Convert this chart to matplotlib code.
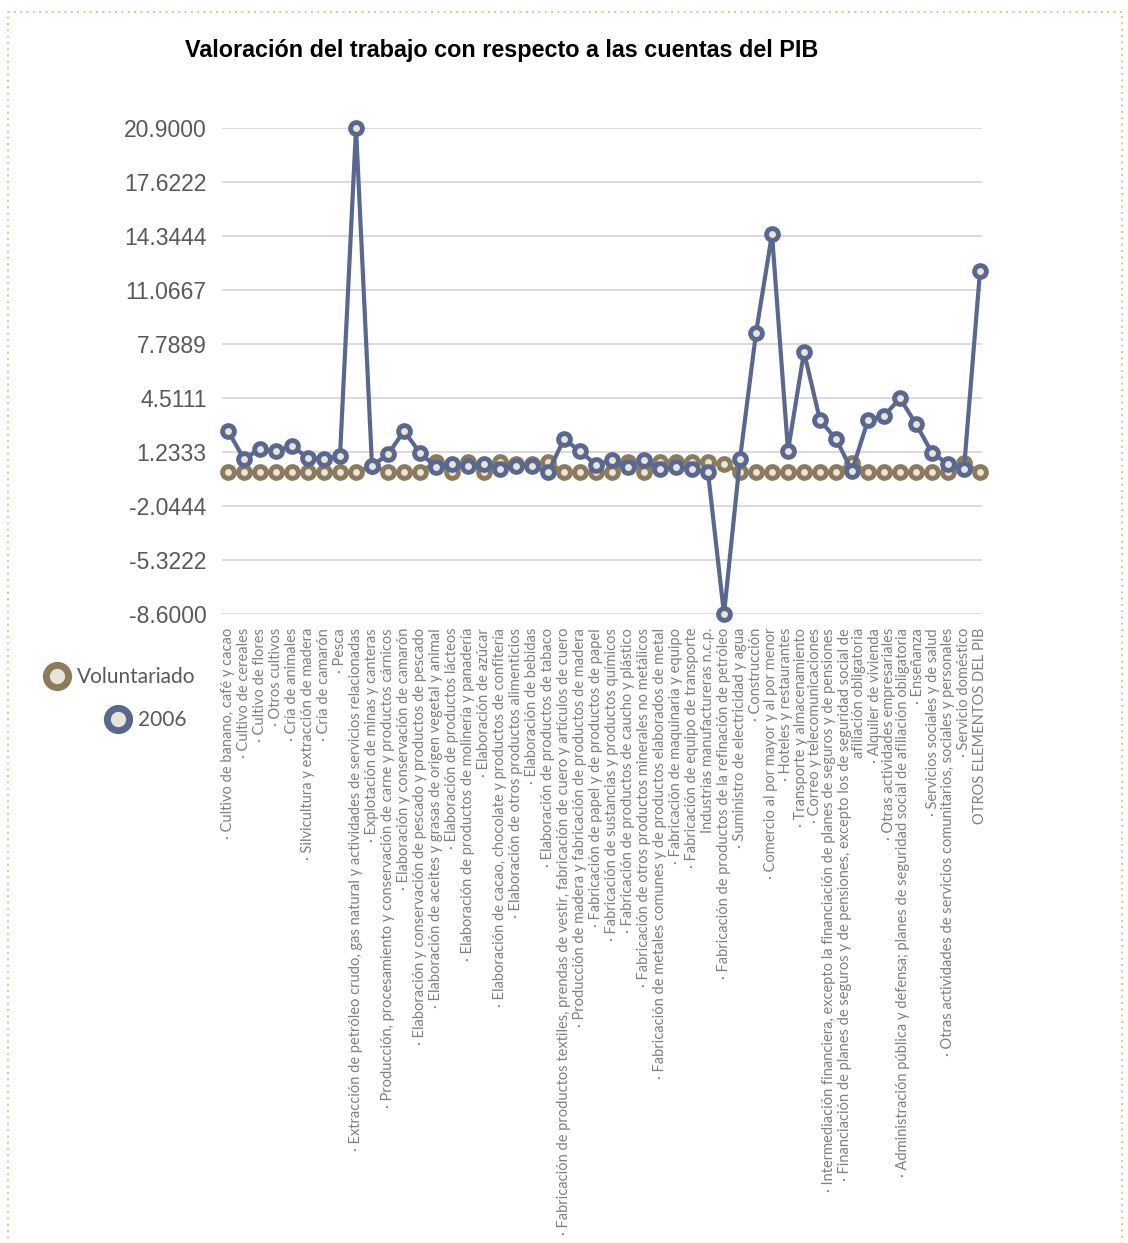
## Valoración del trabajo con respecto a las cuentas del PIB
import matplotlib.pyplot as plt
from matplotlib.lines import Line2D
from matplotlib.patches import Rectangle
from matplotlib.transforms import ScaledTranslation

sectores = [
    "· Cultivo de banano, café y cacao",
    "· Cultivo de cereales",
    "· Cultivo de flores",
    "· Otros cultivos",
    "· Cría de animales",
    "· Silvicultura y extracción de madera",
    "· Cría de camarón",
    "· Pesca",
    "· Extracción de petróleo crudo, gas natural y actividades de servicios relacionadas",
    "· Explotación de minas y canteras",
    "· Producción, procesamiento y conservación de carne y productos cárnicos",
    "· Elaboración y conservación de camarón",
    "· Elaboración y conservación de pescado y productos de pescado",
    "· Elaboración de aceites y grasas de origen vegetal y animal",
    "· Elaboración de productos lácteos",
    "· Elaboración de productos de molinería y panadería",
    "· Elaboración de azúcar",
    "· Elaboración de cacao, chocolate y productos de confitería",
    "· Elaboración de otros productos alimenticios",
    "· Elaboración de bebidas",
    "· Elaboración de productos de tabaco",
    "· Fabricación de productos textiles, prendas de vestir, fabricación de cuero y artículos de cuero",
    "· Producción de madera y fabricación de productos de madera",
    "· Fabricación de papel y de productos de papel",
    "· Fabricación de sustancias y productos químicos",
    "· Fabricación de productos de caucho y plástico",
    "· Fabricación de otros productos minerales no metálicos",
    "· Fabricación de metales comunes y de productos elaborados de metal",
    "· Fabricación de maquinaria y equipo",
    "· Fabricación de equipo de transporte",
    "Industrias manufactureras n.c.p.",
    "· Fabricación de productos de la refinación de petróleo",
    "· Suministro de electricidad y agua",
    "· Construcción",
    "· Comercio al por mayor y al por menor",
    "· Hoteles y restaurantes",
    "· Transporte y almacenamiento",
    "· Correo y telecomunicaciones",
    "· Intermediación financiera, excepto la financiación de planes de seguros y de pensiones",
    "· Financiación de planes de seguros y de pensiones, excepto los de seguridad social de\nafiliación obligatoria",
    "· Alquiler de vivienda",
    "· Otras actividades empresariales",
    "· Administración pública y defensa; planes de seguridad social de afiliación obligatoria",
    "· Enseñanza",
    "· Servicios sociales y de salud",
    "· Otras actividades de servicios comunitarios, sociales y personales",
    "· Servicio doméstico",
    "OTROS ELEMENTOS DEL PIB",
]

voluntariado = [
    0, 0, 0, 0, 0, 0, 0, 0, 0, 0.4, 0, 0, 0,
    0.64, 0, 0.64, 0, 0.64, 0.5, 0.5, 0.64, 0, 0, 0,
    0, 0.64, 0, 0.64, 0.64, 0.64, 0.64, 0.5, 0,
    0, 0, 0, 0, 0, 0, 0.56, 0, 0, 0, 0, 0, 0, 0.56, 0,
]

v2006 = [
    2.51, 0.81, 1.41, 1.29, 1.60, 0.87, 0.81, 0.99, 20.90, 0.38, 1.10, 2.50,
    1.19, 0.32, 0.50, 0.38, 0.50, 0.20, 0.38, 0.38, 0.00, 2.00, 1.30, 0.44,
    0.75, 0.32, 0.75, 0.20, 0.32, 0.20, 0.00, -8.60, 0.81, 8.46, 14.46, 1.31,
    7.30, 3.17, 2.02, 0.10, 3.17, 3.42, 4.50, 2.93, 1.19, 0.50, 0.20, 12.22,
]

y_ticks = [-8.6, -5.3222, -2.0444, 1.2333, 4.5111, 7.7889, 11.0667, 14.3444, 17.6222, 20.9]

azul = "#5a6890"
cafe = "#8c7a5c"
relleno = "#e7e4da"

W, H = 1128, 1243
fig = plt.figure(figsize=(W / 100, H / 100), dpi=100)
ax = fig.add_axes([222 / W, 1 - 614 / H, 760 / W, 486 / H])

x = list(range(len(sectores)))
ax.plot(x, voluntariado, color=cafe, lw=3, marker="o", ms=8.5, mew=3.5,
        mfc=relleno, mec=cafe, clip_on=False, zorder=3)
ax.plot(x, v2006, color=azul, lw=3, marker="o", ms=8.5, mew=3.5,
        mfc=relleno, mec=azul, clip_on=False, zorder=4)

ax.set_xlim(-0.375, 47.125)
ax.set_ylim(y_ticks[0], y_ticks[-1])
ax.set_yticks(y_ticks)
ax.set_yticklabels([f"{t:.4f}" for t in y_ticks], fontsize=16.5,
                   family="Liberation Sans", color="#595959")
ax.set_xticks(x)
ax.set_xticklabels(sectores, rotation=90, ha="center", va="top",
                   multialignment="right", fontsize=10.5, family="Lato",
                   color="#808080", linespacing=1.0)
ax.tick_params(axis="both", length=0)
ax.tick_params(axis="y", pad=11)
ax.tick_params(axis="x", pad=10)
ax.grid(axis="y", color="#d9d9d9", lw=1.3)
ax.set_axisbelow(True)
for s in ax.spines.values():
    s.set_visible(False)

# abrir espacio alrededor de la etiqueta de dos líneas (desplazamiento en px)
desplaza = {34: -1, 35: -2, 36: -3, 37: -5, 38: -7, 40: 7, 41: 5, 42: 3, 43: 2, 44: 1}
for i, lab in enumerate(ax.get_xticklabels()):
    if i in desplaza:
        lab.set_transform(lab.get_transform()
                          + ScaledTranslation(desplaza[i] / 100, 0, fig.dpi_scale_trans))

fig.text(502 / W, 1 - 50 / H, "Valoración del trabajo con respecto a las cuentas del PIB",
         ha="center", va="center", fontsize=16.8, fontweight="bold", family="Liberation Sans")

# leyenda en dos filas, cada una por separado
h1 = Line2D([], [], ls="none", marker="o", ms=16, mew=5, mfc=relleno, mec=cafe)
h2 = Line2D([], [], ls="none", marker="o", ms=16, mew=5, mfc=relleno, mec=azul)
for h, lab, px, py in [(h1, "Voluntariado", 44, 677), (h2, "2006", 105, 720)]:
    leg = fig.legend([h], [lab], loc="center left", bbox_to_anchor=(px / W, 1 - py / H),
                     frameon=False, borderpad=0, borderaxespad=0, handlelength=1.2,
                     handletextpad=0.4, prop={"family": "Lato", "size": 15})
    for t in leg.get_texts():
        t.set_color("#595959")

fig.add_artist(Rectangle((8 / W, -0.01), 1114 / W, 1 - 12 / H + 0.01, fill=False,
                         ec="#e8b96a", lw=1.3, ls=(0, (1, 2.5)), transform=fig.transFigure))

fig.savefig("out.png", dpi=100)
